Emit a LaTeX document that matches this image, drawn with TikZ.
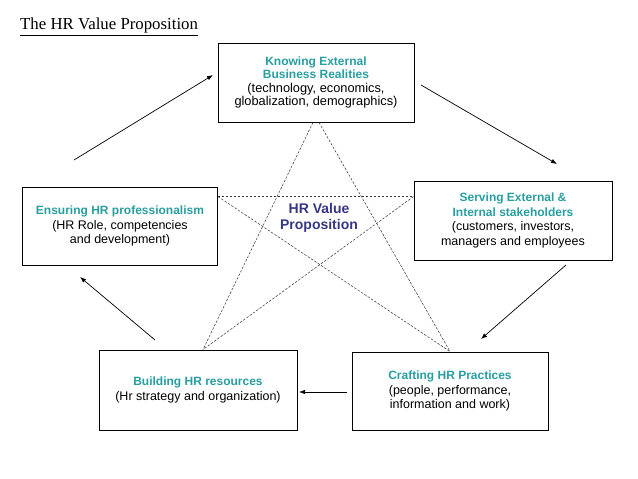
\documentclass[tikz,border=0pt]{standalone}
\usepackage{fontspec}
\setmainfont{Liberation Serif}
\setsansfont{Liberation Sans}
\usepackage{tikz}
\usetikzlibrary{arrows.meta, positioning}
\definecolor{hrteal}{RGB}{40,158,160}
\definecolor{hrnavy}{RGB}{54,54,132}
\newcommand{\boxhead}[1]{{\color{hrteal}\bfseries\fontsize{12}{14}\selectfont #1}}

\begin{document}
\begin{tikzpicture}[x=1pt, y=1pt,
    box/.style={draw=black, line width=0.9pt, minimum width=196pt, minimum height=79pt, inner sep=0pt,
        align=center, font=\sffamily\fontsize{12.5}{14.5}\selectfont},
    flow/.style={-{Latex[length=6pt, width=4.5pt]}, line width=0.7pt},
    star/.style={dash pattern=on 2.5pt off 1.5pt, line width=0.5pt, color=black!80}]
    \useasboundingbox (0,0) rectangle (638,-479);

    % Title
    \node[anchor=base west, inner sep=0pt] (title) at (20,-30)
        {\fontsize{16.8}{19}\selectfont\underline{The HR Value Proposition}};

    % Boxes
    \node[box, font=\sffamily\fontsize{12.8}{13.2}\selectfont] (know) at (316,-82.5)
        {\boxhead{Knowing External}\\\boxhead{Business Realities}\\(technology, economics,\\globalization, demographics)};
    \node[box, minimum width=195pt, minimum height=78pt] (ensure) at (120,-226)
        {\boxhead{Ensuring HR professionalism}\\(HR Role, competencies\\and development)};
    \node[box, minimum width=198pt] (serve) at (513,-220.5)
        {\boxhead{Serving External \&}\\\boxhead{Internal stakeholders}\\(customers, investors,\\managers and employees};
    \node[box, minimum width=198pt, minimum height=80pt] (build) at (198,-390)
        {\boxhead{Building HR resources}\\(Hr strategy and organization)};
    \node[box, minimum height=78pt] (craft) at (450,-391)
        {\boxhead{Crafting HR Practices}\\(people, performance,\\information and work)};

    % Centre
    \node[align=center, text=hrnavy, font=\sffamily\bfseries\fontsize{14}{16}\selectfont] (hub) at (319,-218)
        {HR Value\\Proposition};

    % Star
    \draw[star] ([xshift=-3pt]know.south) -- ([xshift=5pt]build.north);
    \draw[star] ([xshift=3pt]know.south) -- (craft.north);
    \draw[star] ([yshift=-10pt]ensure.north east) -- ([yshift=-16pt]serve.north west);
    \draw[star] ([yshift=-10pt]ensure.north east) -- (craft.north);
    \draw[star] ([yshift=-16pt]serve.north west) -- ([xshift=5pt]build.north);

    % Arrow ends
    \coordinate (p1) at (74,-160);  \coordinate (q1) at (213,-75);
    \coordinate (p2) at (421,-85);  \coordinate (q2) at (557,-164);
    \coordinate (p3) at (566,-265); \coordinate (q3) at (481,-339);
    \coordinate (p4) at (347,-392); \coordinate (q4) at (299,-392);
    \coordinate (p5) at (155,-340); \coordinate (q5) at (80,-277);

    % Arrows
    \draw[flow] (p1) -- (q1);
    \draw[flow] (p2) -- (q2);
    \draw[flow] (p3) -- (q3);
    \draw[flow] (p4) -- (q4);
    \draw[flow] (p5) -- (q5);
\end{tikzpicture}
\end{document}
